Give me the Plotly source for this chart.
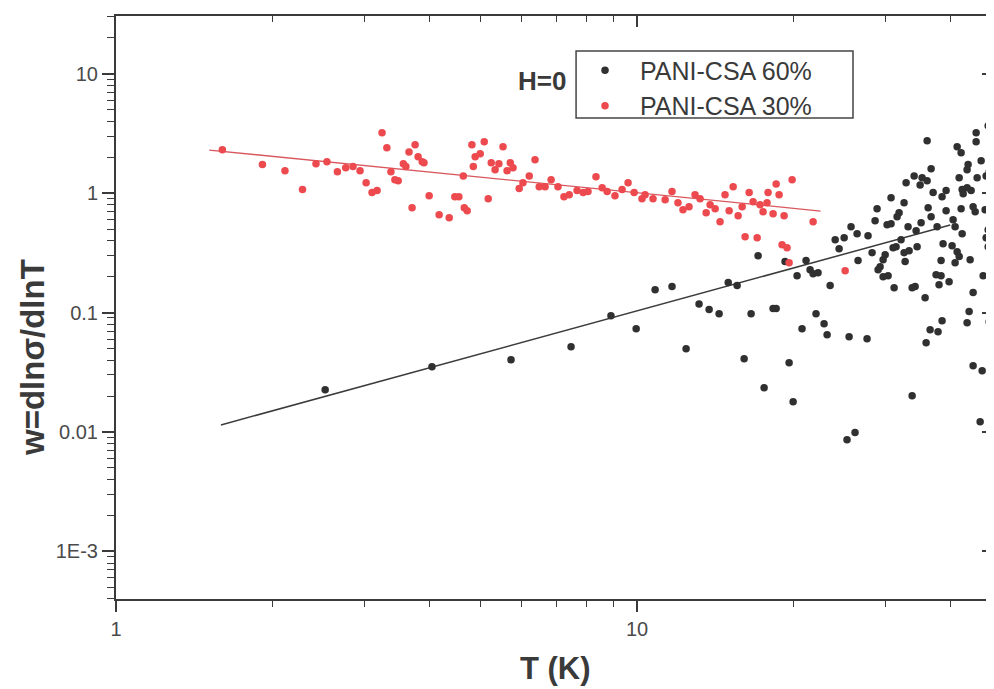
import plotly.graph_objects as go

# ---------------- data ----------------
T_60 = [2.52, 4.04, 5.73, 7.47, 8.91, 9.96, 10.83, 11.67, 12.42, 13.15, 13.75, 14.37, 14.96, 15.56,
        16.05, 16.55, 17.07, 17.53, 18.24, 18.49, 19.23, 19.58, 19.93, 20.28, 20.73, 21.10, 21.48,
        21.77, 22.25, 22.05, 22.85, 23.16, 23.47, 24.00, 24.42, 24.97, 25.52, 25.74, 26.44, 26.55,
        25.29, 26.20, 27.63, 27.75, 28.25, 47.18, 44.74, 44.74, 36.03, 41.14, 41.87, 47.60, 43.18,
        42.99, 45.74, 47.39, 48.02, 36.67, 34.02, 35.24, 36.03, 34.93, 32.83, 41.51, 44.94, 46.76,
        37.00, 39.18, 38.49, 42.06, 42.99, 42.25, 43.76, 30.72, 32.54, 28.88, 36.19, 39.18, 41.87,
        44.15, 44.55, 46.56, 31.83, 31.55, 36.67, 28.63, 30.72, 30.19, 35.08, 33.12, 34.32, 37.65,
        40.41, 40.77, 48.24, 42.06, 47.18, 46.76, 32.11, 31.00, 31.41, 34.47, 32.54, 33.27, 32.69,
        38.66, 40.23, 41.14, 41.51, 40.77, 38.32, 43.57, 47.18, 48.24, 29.93, 29.66, 29.27, 29.01,
        29.66, 30.32, 31.14, 33.72, 34.17, 37.48, 38.32, 37.98, 39.70, 46.15, 35.71, 44.15, 43.38,
        47.81, 42.99, 47.39, 38.49, 36.51, 37.81, 35.87, 44.15, 45.95, 33.72, 45.54, 48.02]
w_60 = [0.0226, 0.0352, 0.0403, 0.0518, 0.0940, 0.0732, 0.155, 0.165, 0.0498, 0.118, 0.106, 0.0977,
        0.178, 0.168, 0.0411, 0.0977, 0.299, 0.0235, 0.108, 0.108, 0.267, 0.0380, 0.0179, 0.203,
        0.0732, 0.272, 0.228, 0.211, 0.215, 0.0977, 0.0805, 0.0652, 0.168, 0.407, 0.342, 0.423,
        0.0627, 0.523, 0.457, 0.272, 0.00862, 0.00991, 0.0604, 0.440, 0.317, 3.66, 3.19, 2.69, 2.74,
        2.44, 2.17, 2.13, 1.73, 1.57, 1.86, 1.51, 1.80, 1.60, 1.39, 1.34, 1.27, 1.17, 1.22, 1.34,
        1.34, 1.39, 1.01, 1.05, 0.931, 1.07, 1.11, 0.987, 1.05, 0.913, 0.829, 0.739, 0.753, 0.711,
        0.739, 0.768, 0.698, 0.725, 0.684, 0.633, 0.633, 0.587, 0.554, 0.543, 0.564, 0.523, 0.484,
        0.523, 0.598, 0.523, 0.598, 0.457, 0.493, 0.423, 0.407, 0.348, 0.355, 0.355, 0.317, 0.329,
        0.267, 0.376, 0.362, 0.322, 0.294, 0.261, 0.272, 0.277, 0.355, 0.355, 0.305, 0.277, 0.242,
        0.228, 0.199, 0.203, 0.161, 0.161, 0.165, 0.207, 0.203, 0.171, 0.181, 0.203, 0.133, 0.147,
        0.102, 0.108, 0.0821, 0.0837, 0.0853, 0.0718, 0.0691, 0.0559, 0.0359, 0.0326, 0.0201,
        0.0122, 0.0101]

T_30 = [1.60, 1.91, 2.11, 2.28, 2.42, 2.54, 2.66, 2.76, 2.85, 2.94, 3.02, 3.10, 3.17, 3.24, 3.31,
        3.37, 3.43, 3.48, 3.56, 3.60, 3.65, 3.75, 3.80, 3.87, 3.90, 3.70, 3.99, 4.17, 4.36, 4.47,
        4.55, 4.64, 4.66, 4.72, 4.82, 5.09, 4.89, 5.00, 4.85, 5.18, 5.25, 5.34, 5.43, 5.53, 5.63,
        5.71, 5.78, 5.94, 6.04, 6.21, 6.37, 6.49, 6.66, 6.84, 7.05, 7.24, 7.41, 7.67, 7.88, 8.05,
        8.34, 8.57, 8.76, 9.07, 9.36, 9.61, 9.87, 10.22, 10.36, 10.73, 11.32, 11.67, 11.98, 12.25,
        12.58, 12.92, 13.21, 13.57, 13.81, 14.12, 14.43, 14.75, 15.02, 15.29, 15.63, 15.91, 16.12,
        16.41, 16.70, 17.00, 17.22, 17.45, 17.76, 17.84, 18.24, 18.49, 18.73, 18.98, 19.15, 19.40,
        19.58, 19.84, 21.77, 25.08]
w_30 = [2.30, 1.73, 1.54, 1.07, 1.76, 1.83, 1.51, 1.63, 1.67, 1.54, 1.22, 1.01, 1.05, 3.19, 2.39,
        1.51, 1.29, 1.27, 1.76, 1.67, 2.21, 2.54, 2.01, 1.83, 1.79, 0.753, 0.950, 0.658, 0.621,
        0.931, 0.931, 1.39, 0.753, 0.711, 2.54, 2.69, 2.01, 2.13, 1.67, 0.896, 1.79, 1.57, 1.76,
        2.44, 1.54, 1.79, 1.63, 1.09, 1.22, 1.39, 1.90, 1.13, 1.13, 1.29, 1.13, 0.931, 0.968, 1.05,
        1.01, 1.03, 1.37, 1.11, 1.03, 0.950, 1.07, 1.22, 1.01, 0.896, 0.968, 0.896, 0.879, 1.03,
        0.829, 0.725, 0.768, 0.968, 0.896, 0.684, 0.798, 0.739, 0.575, 0.968, 0.711, 1.13, 0.645,
        0.768, 0.431, 1.01, 0.846, 0.423, 0.798, 0.698, 0.829, 1.01, 0.671, 1.19, 0.968, 0.369,
        0.645, 0.348, 0.261, 1.29, 0.575, 0.224]

# linear fits (in log-log), endpoints
fit60_T = [1.59, 39.9]
fit60_w = [0.01146, 0.54]
fit30_T = [1.51, 22.5]
fit30_w = [2.29, 0.707]

x_major = [1, 10]
x_major_text = ["1", "10"]
y_major = [1e-3, 1e-2, 1e-1, 1, 10]
y_major_text = ["1E-3", "0.01", "0.1", "1", "10"]

# ---------------- styling ----------------
FONT = "Liberation Sans, Arial, sans-serif"
AX = "#3a3a3a"
TXT = "#4a4a4a"
RED = "#ec4a4f"
BLK = "#303030"

x_minor = [k * 10 ** e for e in range(0, 2) for k in range(2, 10)]
y_minor = [k * 10 ** e for e in range(-4, 2) for k in range(2, 10)]

XRANGE = [0, 1.685]
YRANGE = [-3.398, 1.482]

fig = go.Figure()
fig.add_trace(go.Scatter(x=fit60_T, y=fit60_w, mode="lines", line=dict(color="#3c3c3c", width=1.5),
                         showlegend=False, hoverinfo="skip"))
fig.add_trace(go.Scatter(x=fit30_T, y=fit30_w, mode="lines", line=dict(color="#d9585e", width=1.3),
                         showlegend=False, hoverinfo="skip"))
fig.add_trace(go.Scatter(x=T_60, y=w_60, mode="markers", name="PANI-CSA 60%",
                         marker=dict(color=BLK, size=7.5)))
fig.add_trace(go.Scatter(x=T_30, y=w_30, mode="markers", name="PANI-CSA 30%",
                         marker=dict(color=RED, size=7.5)))
# empty trace bound to the mirror axes so they get drawn
fig.add_trace(go.Scatter(x=[None], y=[None], xaxis="x2", yaxis="y2", showlegend=False,
                         hoverinfo="skip"))

common_x = dict(type="log", range=XRANGE, showgrid=False, zeroline=False,
                showline=True, linecolor=AX, linewidth=2)
common_y = dict(type="log", range=YRANGE, showgrid=False, zeroline=False,
                showline=True, linecolor=AX, linewidth=2)

fig.update_layout(
    width=986, height=681,
    margin=dict(l=108, r=0, t=8, b=90),
    plot_bgcolor="white", paper_bgcolor="white",
    font=dict(family=FONT, color=TXT),
    xaxis=dict(**common_x, tickmode="array", tickvals=x_major, ticktext=x_major_text,
               ticks="outside", ticklen=11, tickwidth=1.5, tickcolor=AX,
               tickfont=dict(size=20, color=TXT), ticklabelstandoff=0,
               minor=dict(tickmode="array", tickvals=x_minor, ticks="outside", ticklen=6,
                          tickwidth=1.3, tickcolor=AX)),
    yaxis=dict(**common_y, tickmode="array", tickvals=y_major, ticktext=y_major_text,
               ticks="outside", ticklen=12, tickwidth=1.5, tickcolor=AX,
               tickfont=dict(size=20, color=TXT), ticklabelstandoff=0,
               minor=dict(tickmode="array", tickvals=y_minor, ticks="outside", ticklen=7,
                          tickwidth=1.3, tickcolor=AX)),
    xaxis2=dict(**common_x, overlaying="x", side="top", anchor="y2", tickmode="array",
                tickvals=x_major, ticks="inside", ticklen=11, tickwidth=1.5, tickcolor=AX,
                showticklabels=False,
                minor=dict(tickmode="array", tickvals=x_minor, ticks="inside", ticklen=6,
                           tickwidth=1.3, tickcolor=AX)),
    yaxis2=dict(**common_y, overlaying="y", side="right", anchor="x2", tickmode="array",
                tickvals=y_major, ticks="inside", ticklen=12, tickwidth=1.5, tickcolor=AX,
                showticklabels=False,
                minor=dict(tickmode="array", tickvals=y_minor, ticks="inside", ticklen=7,
                           tickwidth=1.3, tickcolor=AX)),
    legend=dict(x=0.5171, y=0.946, xanchor="left", yanchor="top", bgcolor="rgba(0,0,0,0)",
                borderwidth=0, font=dict(size=25, color="#3a3a3a", family=FONT),
                itemwidth=60, tracegroupgap=0),
    showlegend=True,
)

# legend frame
fig.add_shape(type="rect", xref="paper", yref="paper", x0=0.524, x1=0.8394, y0=0.825, y1=0.94,
              line=dict(color="#444", width=1.5), fillcolor="rgba(0,0,0,0)", layer="above")

fig.add_annotation(text="<b>H=0</b>", xref="paper", yref="paper", x=0.4852, y=0.8885,
                   xanchor="center", yanchor="middle", showarrow=False,
                   font=dict(size=26, color="#3a3a3a", family=FONT))
fig.add_annotation(text="<b>T (K)</b>", xref="paper", yref="paper", x=0.5, y=-0.12,
                   xanchor="center", yanchor="middle", showarrow=False,
                   font=dict(size=31, color="#3a3a3a", family=FONT))
fig.add_annotation(text="<b>w=dlnσ/dlnT</b>", xref="paper", yref="paper", x=-0.0945, y=0.4134,
                   xanchor="center", yanchor="middle", showarrow=False, textangle=-90,
                   font=dict(size=33, color="#3a3a3a", family=FONT))

fig.write_html("out.html")
